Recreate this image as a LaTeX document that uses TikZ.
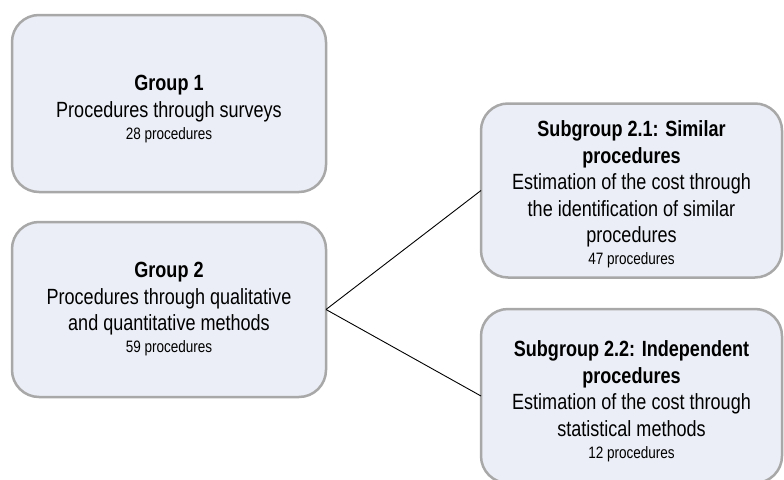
\documentclass[tikz,border=0pt]{standalone}
\usepackage{fontspec}
\setmainfont{Liberation Sans}[FakeStretch=0.82]
\definecolor{boxfill}{RGB}{235,238,246}
\definecolor{boxline}{RGB}{168,168,168}
\newcommand{\mainsz}{\fontsize{22}{26.5}\selectfont}
\newcommand{\countsz}{\fontsize{16.5}{22}\selectfont}

\begin{document}
\begin{tikzpicture}[x=1pt,y=-1pt,
  grpbox/.style={draw=boxline,line width=2.5pt,fill=boxfill,rounded corners=27pt,
    inner sep=0pt,outer sep=0pt,align=center,font=\mainsz},
  link/.style={draw=black,line width=0.9pt}]
 		\useasboundingbox (0,0) rectangle (784,479);
 		\node [grpbox,minimum width=314pt,minimum height=177pt] (g1) at (169,103.5) {\rule{0pt}{26pt}\textbf{Group 1}\\Procedures through surveys\\[-4.5pt]{\countsz 28 procedures}};
 		\node [grpbox,minimum width=314pt,minimum height=175pt] (g2) at (169,309.5) {\textbf{Group 2}\\Procedures through qualitative\\and quantitative methods\\[-4.5pt]{\countsz 59 procedures}};
 		\node [grpbox,minimum width=301pt,minimum height=174pt] (s21) at (631.5,190.5) {\rule{0pt}{24pt}\textbf{Subgroup 2.1: Similar}\\\textbf{procedures}\\Estimation of the cost through\\the identification of similar\\procedures\\[-4.5pt]{\countsz 47 procedures}};
 		\node [grpbox,minimum width=301pt,minimum height=174pt] (s22) at (631.5,396) {\rule{0pt}{26pt}\textbf{Subgroup 2.2: Independent}\\\textbf{procedures}\\Estimation of the cost through\\statistical methods\\[-4.5pt]{\countsz 12 procedures}};
 		\draw [link] (g2.east) -- (s21.west);
 		\draw [link] (g2.east) -- (s22.west);
 		\end{tikzpicture}
\end{document}
